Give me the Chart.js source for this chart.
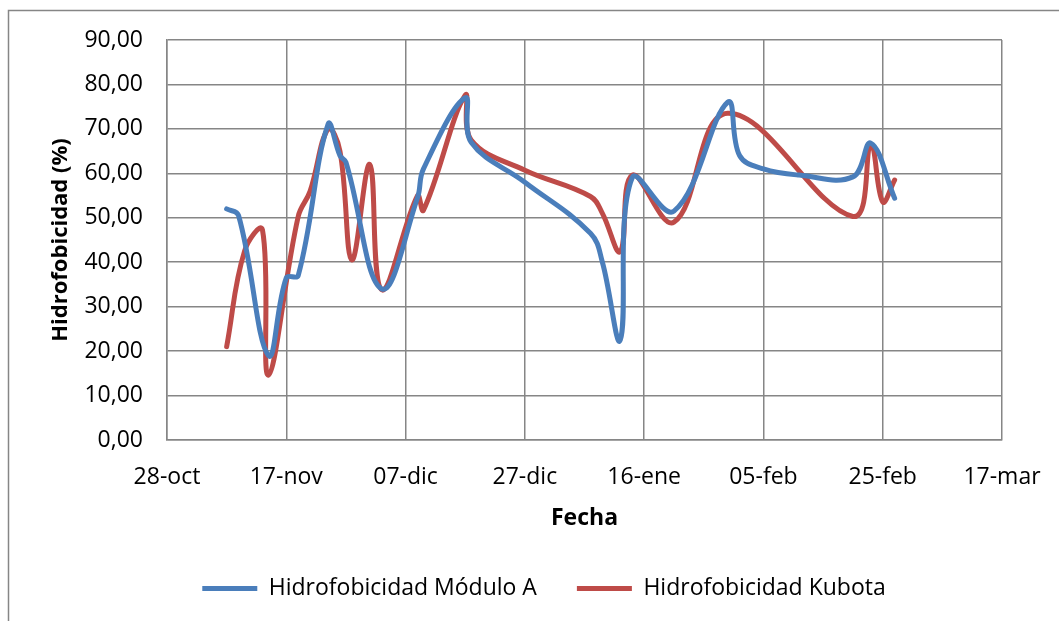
<!DOCTYPE html>
<html>
<head>
<meta charset="utf-8">
<script src="https://cdn.jsdelivr.net/npm/chart.js@4.4.1/dist/chart.umd.min.js"></script>
<style>
  html, body { margin: 0; padding: 0; background: #fff; }
  #wrap { width: 1059px; height: 621px; }
</style>
</head>
<body>
<div id="wrap"><canvas id="hidroChart" width="1059" height="621"></canvas></div>
<script>
// fechas y valores
const fechasModuloA = ['2013-11-07', '2013-11-09', '2013-11-14', '2013-11-17', '2013-11-19', '2013-11-24',
    '2013-11-26', '2013-11-27', '2013-12-03', '2013-12-09', '2013-12-10', '2013-12-17', '2013-12-18',
    '2013-12-27', '2014-01-07', '2014-01-09', '2014-01-12', '2014-01-14', '2014-01-21', '2014-01-30',
    '2014-02-01', '2014-02-05', '2014-02-11', '2014-02-20', '2014-02-23', '2014-02-27'];
const hidroModuloA = [52, 50.5, 19, 36.5, 37, 71, 64, 62.5, 34, 54.5, 61, 77, 67,
    58, 46.5, 40, 22.5, 59, 51.5, 76, 64, 61, 59.6, 59.2, 66.8, 54.4];

const fechasKubota = ['2013-11-07', '2013-11-10', '2013-11-13', '2013-11-14', '2013-11-19', '2013-11-21',
    '2013-11-24', '2013-11-26', '2013-11-28', '2013-12-01', '2013-12-03', '2013-12-09', '2013-12-10',
    '2013-12-17', '2013-12-18', '2013-12-27', '2014-01-07', '2014-01-09', '2014-01-12', '2014-01-14',
    '2014-01-21', '2014-01-30', '2014-02-20', '2014-02-23', '2014-02-25', '2014-02-27'];
const hidroKubota = [21, 42.5, 47.3, 14.6, 50.3, 56, 70, 65, 40.5, 62, 33.8, 55, 51.7,
    77.6, 67.5, 60.7, 54.8, 51, 42.4, 59.6, 49, 73.5, 50.3, 66.4, 53.6, 58.5];

const xTickLabels = ['28-oct', '17-nov', '07-dic', '27-dic', '16-ene', '05-feb', '25-feb', '17-mar'];
const yTickLabels = ['0,00', '10,00', '20,00', '30,00', '40,00', '50,00', '60,00', '70,00', '80,00', '90,00'];

const fechaInicio = Date.UTC(2013, 9, 28);
function diasDesdeInicio(f) {
    const p = f.split('-');
    return (Date.UTC(+p[0], +p[1] - 1, +p[2]) - fechaInicio) / 86400000;
}
function puntos(fechas, valores) {
    return fechas.map((f, i) => ({ x: diasDesdeInicio(f), y: valores[i] }));
}

const gris = '#868686';
const fuente = "'Open Sans', 'Liberation Sans', sans-serif";

const marco = {
    id: 'marco',
    beforeDraw(chart) {
        const c = chart.ctx;
        c.save();
        c.fillStyle = '#fff';
        c.fillRect(0, 0, chart.width, chart.height);
        c.strokeStyle = gris;
        c.lineWidth = 1.5;
        c.strokeRect(8.5, 10.5, chart.width + 20, chart.height + 20);
        c.restore();
    },
    afterLayout(chart) {
        // la leyenda original queda algo desplazada a la derecha
        chart.legend.left += 23;
        chart.legend.right += 23;
    }
};

document.addEventListener('DOMContentLoaded', function () {
    const ctx = document.getElementById('hidroChart');
    new Chart(ctx, {
        type: 'scatter',
        data: {
            datasets: [{
                label: 'Hidrofobicidad Módulo A',
                data: puntos(fechasModuloA, hidroModuloA),
                showLine: true,
                borderColor: '#4a7ebb',
                backgroundColor: '#4a7ebb',
                borderWidth: 5,
                borderCapStyle: 'round',
                borderJoinStyle: 'round',
                pointRadius: 0,
                tension: 0.4
            }, {
                label: 'Hidrofobicidad Kubota',
                data: puntos(fechasKubota, hidroKubota),
                showLine: true,
                borderColor: '#be4b48',
                backgroundColor: '#be4b48',
                borderWidth: 5,
                borderCapStyle: 'round',
                borderJoinStyle: 'round',
                pointRadius: 0,
                tension: 0.4
            }]
        },
        options: {
            responsive: false,
            animation: false,
            layout: { padding: { top: 40, left: 40, right: 57, bottom: 11 } },
            plugins: {
                legend: {
                    position: 'bottom',
                    labels: {
                        usePointStyle: true,
                        pointStyle: 'line',
                        pointStyleWidth: 55,
                        padding: 40,
                        color: '#000',
                        font: { family: fuente, size: 23 }
                    }
                },
                tooltip: { enabled: false }
            },
            scales: {
                x: {
                    type: 'linear',
                    min: 0,
                    max: 140,
                    afterFit: function (scale) {
                        scale.height = 97;
                        scale.paddingLeft = 0;
                        scale.paddingRight = 0;
                    },
                    ticks: {
                        stepSize: 20,
                        padding: 24,
                        color: '#000',
                        font: { family: fuente, size: 23 },
                        maxRotation: 0,
                        callback: v => xTickLabels[v / 20]
                    },
                    grid: { color: gris, lineWidth: 1.5, drawTicks: false },
                    border: { color: gris, width: 1.5 },
                    title: {
                        display: true,
                        text: 'Fecha',
                        color: '#000',
                        font: { family: fuente, size: 23, weight: 'bold' },
                        padding: { top: 8, bottom: 5 }
                    }
                },
                y: {
                    min: 0,
                    max: 90,
                    afterFit: function (scale) { scale.width = 127; },
                    ticks: {
                        stepSize: 10,
                        padding: 24,
                        color: '#000',
                        font: { family: fuente, size: 23 },
                        callback: v => yTickLabels[v / 10]
                    },
                    grid: { color: gris, lineWidth: 1.5, drawTicks: false },
                    border: { color: gris, width: 1.5 },
                    title: {
                        display: true,
                        text: 'Hidrofobicidad (%)',
                        color: '#000',
                        font: { family: fuente, size: 22, weight: 'bold' },
                        padding: { top: 8, bottom: 0 }
                    }
                }
            }
        },
        plugins: [marco]
    });
});
</script>
</body>
</html>
